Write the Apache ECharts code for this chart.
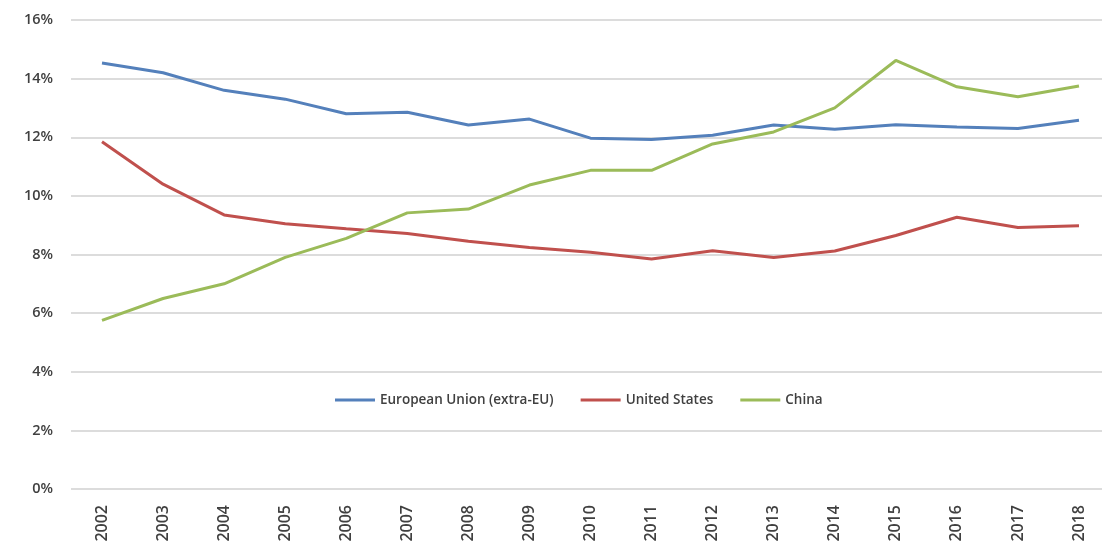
<!DOCTYPE html>
<html><head><meta charset="utf-8">
<script src="https://cdn.jsdelivr.net/npm/echarts@6/dist/echarts.min.js"></script>
<style>html,body{margin:0;padding:0;background:#fff}#c{width:1102px;height:552px}</style>
</head><body><div id="c"></div>
<script>
const years = ['2002','2003','2004','2005','2006','2007','2008','2009','2010','2011','2012','2013','2014','2015','2016','2017','2018'];
const euValues = [14.53,14.2,13.6,13.3,12.8,12.85,12.42,12.62,11.97,11.92,12.07,12.42,12.27,12.43,12.35,12.3,12.58];
const usValues = [11.85,10.4,9.35,9.05,8.88,8.72,8.45,8.24,8.08,7.85,8.13,7.9,8.12,8.65,9.27,8.92,8.98];
const chinaValues = [5.75,6.5,7.0,7.9,8.55,9.42,9.55,10.37,10.87,10.87,11.77,12.18,13.0,14.62,13.72,13.38,13.75];
const seriesNames = ['European Union (extra-EU)','United States','China'];
const colors = ['#5480bb','#c0504d','#9bbb59'];

const chart = echarts.init(document.getElementById('c'));
const font = '"Open Sans", "Liberation Sans", sans-serif';
const labelStyle = {fontSize:14, color:'#404040', fontWeight:600, fontFamily:font};
chart.setOption({
  animation:false,
  textStyle:{fontFamily:font},
  grid:[
    {left:71, top:20, right:0, height:469},
    {left:102, top:20, right:23, height:469}
  ],
  legend:{
    left:330, top:388, itemGap:27, itemWidth:40, itemHeight:3, icon:'rect',
    textStyle:Object.assign({}, labelStyle, {fontSize:13.5}),
    data:seriesNames
  },
  xAxis:[
    {gridIndex:0, type:'category', data:years, boundaryGap:true, show:false},
    {gridIndex:1, type:'category', data:years, boundaryGap:false,
     axisLine:{show:false}, axisTick:{show:false}, splitLine:{show:false},
     axisLabel:Object.assign({rotate:90, margin:16}, labelStyle, {fontSize:16})}
  ],
  yAxis:[
    {gridIndex:0, type:'value', min:0, max:16, interval:2,
     axisLine:{show:false}, axisTick:{show:false},
     splitLine:{lineStyle:{color:'#dcdcdc', width:2}},
     axisLabel:Object.assign({formatter:'{value}%', margin:18}, labelStyle, {fontSize:14.5})},
    {gridIndex:1, type:'value', min:0, max:16, interval:2, show:false, splitLine:{show:false}}
  ],
  series:[
    {name:seriesNames[0], type:'line', xAxisIndex:1, yAxisIndex:1, data:euValues, showSymbol:false, lineStyle:{width:3, color:colors[0]}, itemStyle:{color:colors[0]}},
    {name:seriesNames[1], type:'line', xAxisIndex:1, yAxisIndex:1, data:usValues, showSymbol:false, lineStyle:{width:3, color:colors[1]}, itemStyle:{color:colors[1]}},
    {name:seriesNames[2], type:'line', xAxisIndex:1, yAxisIndex:1, data:chinaValues, showSymbol:false, lineStyle:{width:3, color:colors[2]}, itemStyle:{color:colors[2]}}
  ]
});
</script></body></html>
